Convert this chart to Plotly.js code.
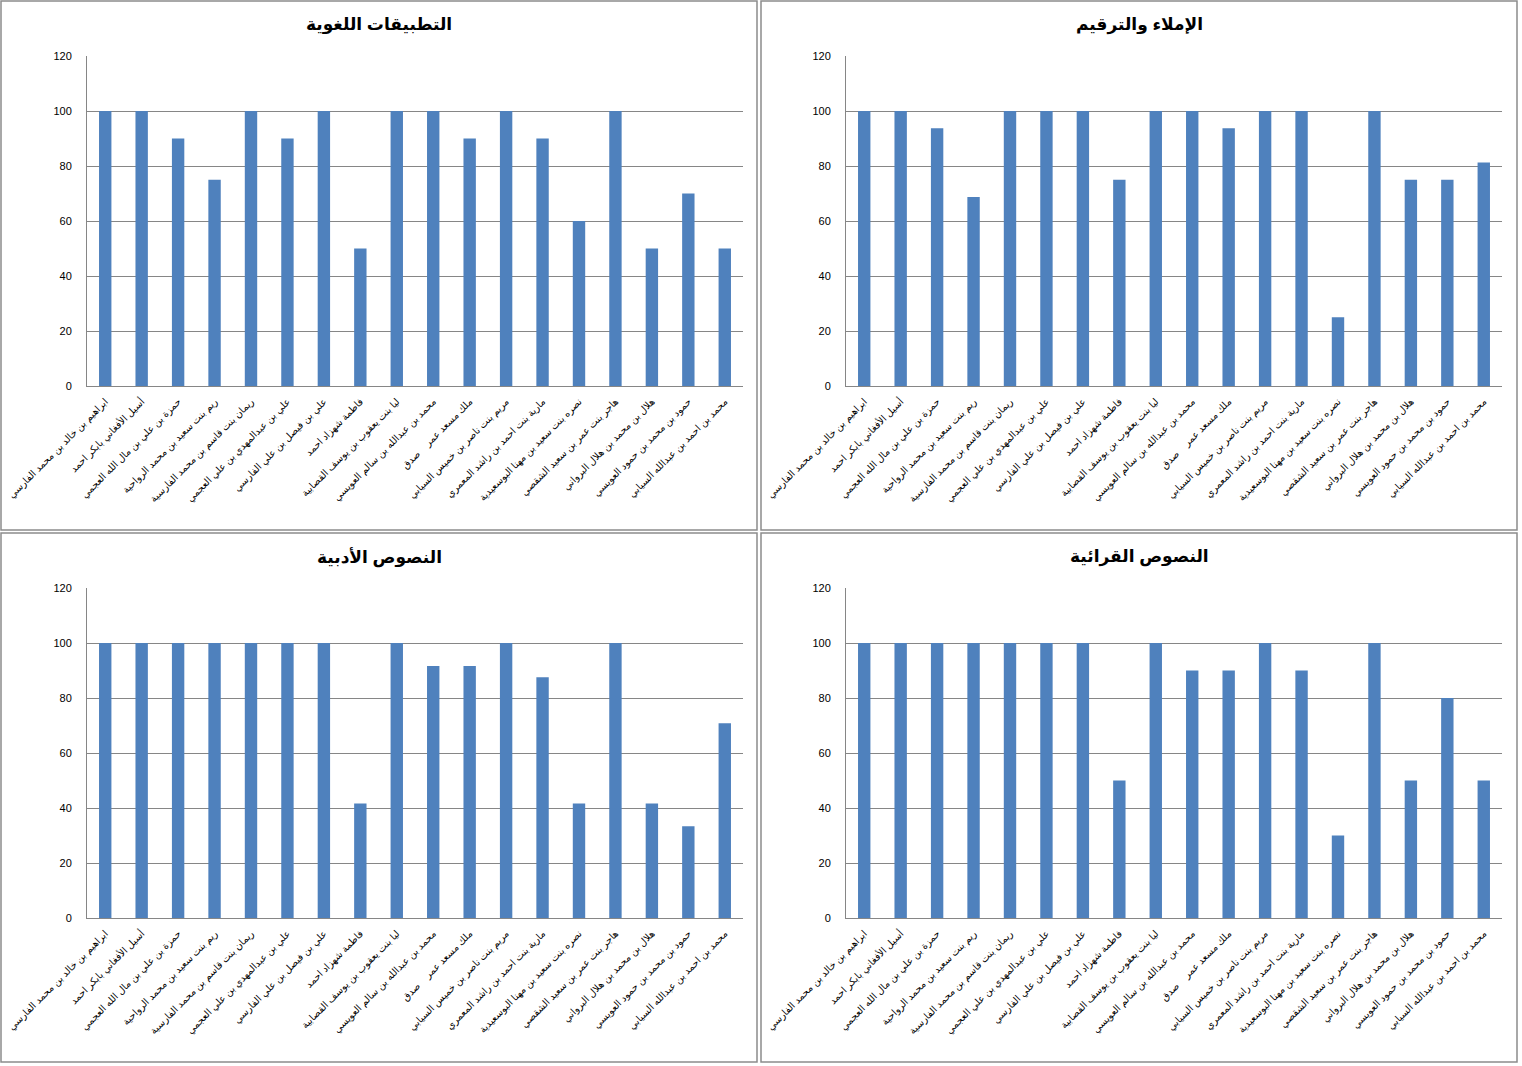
<!DOCTYPE html>
<html>
<head>
<meta charset="utf-8">
<script src="https://cdn.plot.ly/plotly-3.0.1.min.js"></script>
<style>html,body{margin:0;padding:0;background:#fff;}#chart{width:1522px;height:1066px;}</style>
</head>
<body>
<div id="chart"></div>
<script>
const students = [
  "ابراهيم بن خالد بن محمد الفارسي",
  "أسيل الأفغاني بابكر احمد",
  "حمزة بن علي بن مال الله العجمي",
  "ريم بنت سعيد بن محمد الرواحية",
  "ريمان بنت قاسم بن محمد الفارسية",
  "علي بن عبدالمهدي بن علي العجمي",
  "علي بن فيصل بن علي الفارسي",
  "فاطمة شهزاد احمد",
  "ليا بنت يعقوب بن يوسف القصابية",
  "محمد بن عبدالله بن سالم العويسي",
  "ملك مسعد عمر\u00A0\u00A0\u00A0\u00A0صدق",
  "مريم بنت ناصر بن خميس السيابي",
  "مارية بنت احمد بن راشد المعمري",
  "نصره بنت سعيد بن مهنا البوسعيدية",
  "هاجر بنت عمر بن سعيد الشقصي",
  "هلال بن محمد بن هلال البرواني",
  "حمود بن محمد بن حمود العويسي",
  "محمد بن احمد بن عبدالله السيابي"
];
const titles = ["التطبيقات اللغوية", "الإملاء والترقيم", "النصوص الأدبية", "النصوص القرائية"];
const languageApplications = [100,100,90,75,100,90,100,50,100,100,90,100,90,60,100,50,70,50];
const spellingPunctuation = [100,100,93.75,68.75,100,100,100,75,100,100,93.75,100,100,25,100,75,75,81.25];
const literaryTexts = [100,100,100,100,100,100,100,41.67,100,91.67,91.67,100,87.5,41.67,100,41.67,33.33,70.83];
const readingTexts = [100,100,100,100,100,100,100,50,100,90,90,100,90,30,100,50,80,50];
const yTicks = [0,20,40,60,80,100,120];

const W = 1522, H = 1066;
const series = [languageApplications, spellingPunctuation, literaryTexts, readingTexts];
const panels = [[1,1,757,530],[761,1,1517,530],[1,533,757,1062],[761,533,1517,1062]];
const plots = [[87,56,743,386],[846,56,1502,386],[87,588,743,918],[846,588,1502,918]];

const traces = [];
const layout = {
  width: W, height: H,
  margin: {l:0,r:0,t:0,b:0},
  paper_bgcolor: "#fff", plot_bgcolor: "#fff",
  showlegend: false,
  bargap: 0.66,
  shapes: [], annotations: [],
  font: {family: "Arial, 'Liberation Sans', 'DejaVu Sans', sans-serif", color: "#000"}
};
for (let i = 0; i < 4; i++) {
  const ax = i === 0 ? "" : String(i + 1);
  traces.push({
    type: "bar", x: students.map((s, k) => k), y: series[i],
    xaxis: "x" + ax, yaxis: "y" + ax,
    marker: {color: "#4F81BD", line: {width: 0}},
    hoverinfo: "y"
  });
  const p = plots[i];
  layout["xaxis" + ax] = {
    domain: [p[0]/W, p[2]/W], anchor: "y" + ax,
    range: [-0.5, 17.5],
    tickmode: "array", tickvals: students.map((s, k) => k), ticktext: students,
    tickangle: -45, tickfont: {size: 9.8, family: "Arial, 'DejaVu Sans', sans-serif"},
    showline: true, linecolor: "#868686", linewidth: 1,
    showgrid: false, zeroline: false, ticks: "", ticklabelstandoff: 5, fixedrange: true
  };
  layout["yaxis" + ax] = {
    domain: [1 - p[3]/H, 1 - p[1]/H], anchor: "x" + ax,
    range: [0, 120], tickmode: "array", tickvals: yTicks,
    tickfont: {size: 11, family: "Arial, 'Liberation Sans', sans-serif"},
    showline: true, linecolor: "#868686", linewidth: 1,
    showgrid: true, gridcolor: "#868686", gridwidth: 1,
    zeroline: false, ticks: "", ticklabelstandoff: 12, fixedrange: true
  };
  const b = panels[i];
  layout.shapes.push({
    type: "rect", xref: "paper", yref: "paper",
    x0: b[0]/W, x1: b[2]/W, y0: 1 - b[3]/H, y1: 1 - b[1]/H,
    line: {color: "#8c8c8c", width: 1.5}, fillcolor: "rgba(0,0,0,0)"
  });
  layout.annotations.push({
    text: "<b>" + titles[i] + "</b>", xref: "paper", yref: "paper",
    x: ((b[0] + b[2]) / 2) / W, y: 1 - (b[1] + 24) / H,
    xanchor: "center", yanchor: "middle", showarrow: false,
    font: {size: 17, family: "Arial, 'DejaVu Sans', sans-serif", color: "#000"}
  });
}
Plotly.newPlot("chart", traces, layout, {displayModeBar: false, staticPlot: true});
</script>
</body>
</html>
